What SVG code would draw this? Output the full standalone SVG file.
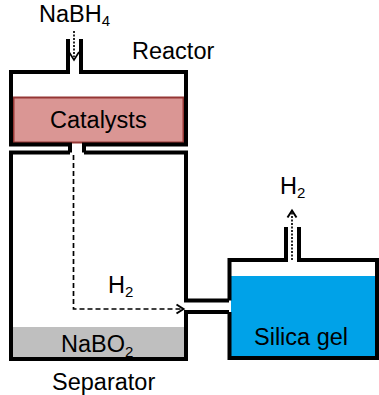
<svg xmlns="http://www.w3.org/2000/svg" width="379" height="395" viewBox="0 0 379 395">
<defs>
<style>
.v{fill:none;stroke:#000;stroke-width:4;stroke-linejoin:miter}
.t{font-family:"Liberation Sans",Arial,sans-serif;font-size:23.500px;fill:#000}
.s{font-size:15px}
.f{fill:none;stroke:#000;stroke-width:1.700}
</style>
<marker id="a" markerWidth="12" markerHeight="12" refX="9.500" refY="6" orient="auto" markerUnits="userSpaceOnUse"><path d="M2 1.500L9 6L2 10.500" fill="none" stroke="#000" stroke-width="2"/></marker>
</defs>
<rect width="379" height="395" fill="#fff"/>
<g id="reactor">
<rect x="13.500" y="97.500" width="170" height="45" fill="#DA9694" stroke="#953735" stroke-width="2"/>
<path class="v" d="M68 39V72H11V144.500H70V152.500"/>
<path class="v" d="M81 39V72H186V144.500H84V152.500"/>
<text class="t" x="50" y="128">Catalysts</text>
<text class="t" x="132" y="59">Reactor</text>
</g>
<g id="separator">
<rect x="13" y="327" width="171" height="30" fill="#BFBFBF"/>
<path class="v" d="M70 152.500H11V359H186V312H229"/>
<path class="v" d="M84 152.500H186V300.500H229"/>
<text class="t" x="61" y="352">NaBO<tspan class="s" dy="5">2</tspan></text>
<text class="t" x="52" y="390">Separator</text>
</g>
<g id="silica">
<rect x="231" y="276" width="145" height="80" fill="#00A2E8"/>
<path class="v" d="M286 227V260H229.500V300.500M229.500 312V358H377V260H299V227"/>
<text class="t" x="254" y="345">Silica gel</text>
</g>
<g id="connectors">
<path class="f" d="M74 31V57" stroke-dasharray="2 1.500"/>
<path class="f" d="M69 52L74 60L79 52" stroke-width="2"/>
<path class="f" d="M73.500 155V309H184" stroke-dasharray="5 3" marker-end="url(#a)"/>
<path class="f" d="M292 260V210" stroke-dasharray="2 1.500" marker-end="url(#a)"/>
</g>
<g id="labels">
<text class="t" x="39" y="22">NaBH<tspan class="s" dy="4">4</tspan></text>
<text class="t" x="108" y="293">H<tspan class="s" dy="4">2</tspan></text>
<text class="t" x="280" y="194">H<tspan class="s" dy="4">2</tspan></text>
</g>
</svg>
